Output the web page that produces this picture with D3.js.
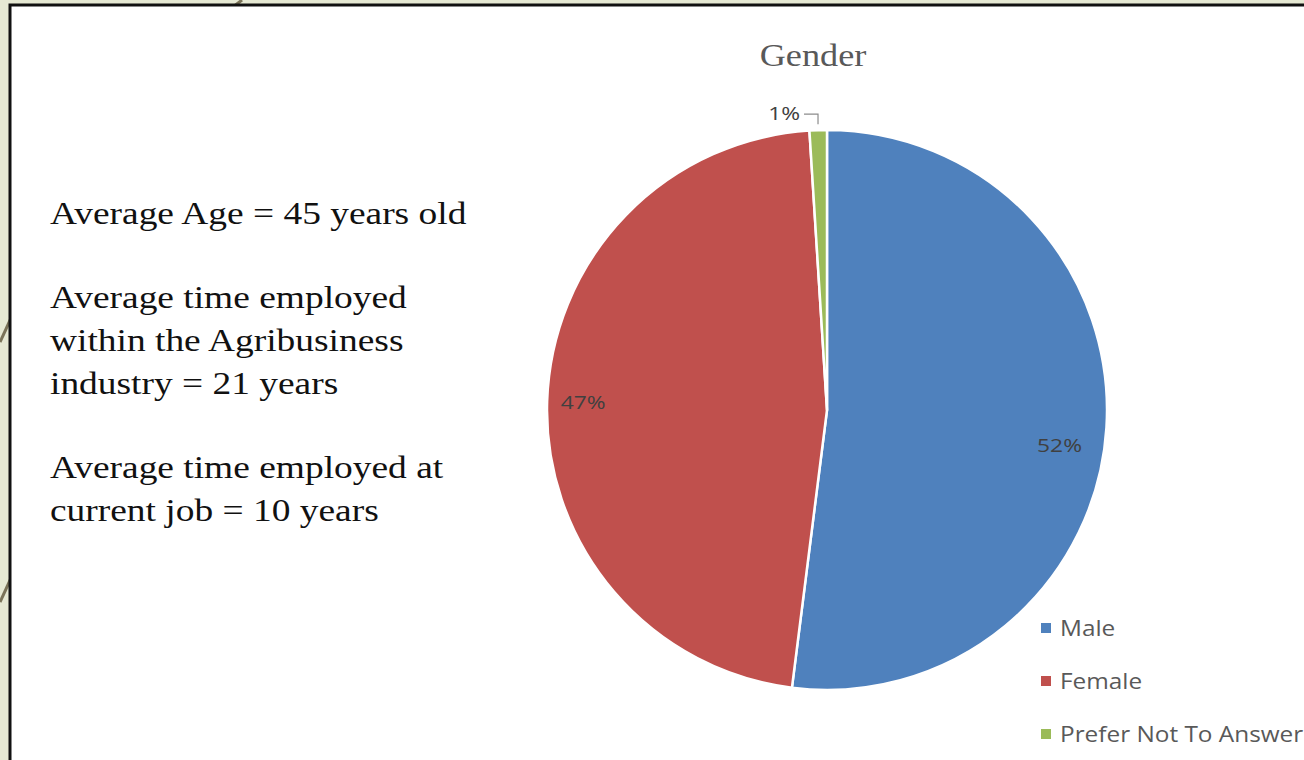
<!DOCTYPE html>
<html>
<head>
<meta charset="utf-8">
<script src="https://cdn.jsdelivr.net/npm/d3@7/dist/d3.min.js"></script>
<style>
  html, body { margin: 0; padding: 0; background: #e6e9d3; }
  svg { display: block; }
</style>
</head>
<body>
<svg id="chart" width="1304" height="760"></svg>
<script>
// Gender breakdown of respondents
const categories = ["Male", "Female", "Prefer Not To Answer"];
const shares = [52, 47, 1];
const colors = ["#4f81bd", "#c0504d", "#9bbb59"];

// Summary statistics shown beside the chart
const summaryBlocks = [
  ["Average Age = 45 years old"],
  ["Average time employed", "within the Agribusiness", "industry = 21 years"],
  ["Average time employed at", "current job = 10 years"]
];

const svg = d3.select("#chart");
const W = 1304, H = 760;
const serif = "'Liberation Serif', 'Times New Roman', serif";
const sans = "'Open Sans', 'DejaVu Sans', sans-serif";

// slide backdrop and decorative strokes
svg.append("rect").attr("width", W).attr("height", H).attr("fill", "#e6e9d3");
const deco = [[[0, 342], [12, 316]], [[0, 602], [12, 576]], [[233, 7], [242, 0]]];
deco.forEach(d => svg.append("line")
  .attr("x1", d[0][0]).attr("y1", d[0][1]).attr("x2", d[1][0]).attr("y2", d[1][1])
  .attr("stroke", "#7a7358").attr("stroke-width", 3));

// white panel with black frame
svg.append("rect").attr("x", 10).attr("y", 5).attr("width", W + 20).attr("height", H + 20)
  .attr("fill", "#ffffff").attr("stroke", "#111").attr("stroke-width", 3);

// text helper: the slide renders type slightly widened
function addText(parent, x, y, str, opts) {
  const t = parent.append("text")
    .attr("transform", `translate(${x},${y}) scale(${opts.sx || 1},1)`)
    .attr("font-family", opts.family).attr("font-size", opts.size)
    .attr("fill", opts.fill).attr("text-anchor", opts.anchor || "start")
    .text(str);
  return t;
}

// summary text
const textG = svg.append("g");
const blockTops = [224, 308, 478];
summaryBlocks.forEach((lines, i) => {
  lines.forEach((ln, j) => {
    addText(textG, 50, blockTops[i] + j * 43, ln,
      { family: serif, size: 32, fill: "#111", sx: 1.17 });
  });
});

// title
addText(svg, 813, 66, "Gender", { family: serif, size: 31, fill: "#595959", sx: 1.17, anchor: "middle" });

// pie
const cx = 827, cy = 410, r = 280;
const data = categories.map((c, i) => ({ name: c, value: shares[i], color: colors[i] }));
const pie = d3.pie().value(d => d.value).sort(null);
const arcs = pie(data);
const arc = d3.arc().innerRadius(0).outerRadius(r);
const pieG = svg.append("g").attr("transform", `translate(${cx},${cy})`);
pieG.selectAll("path").data(arcs).join("path")
  .attr("d", arc).attr("fill", d => d.data.color)
  .attr("stroke", "#ffffff").attr("stroke-width", 2.5).attr("stroke-linejoin", "round");

// data labels (best-fit placement nudges per slice)
const labelNudge = [[-5, 20], [-6, -1], [0, 0]];
const inner = d3.arc().innerRadius(r * 0.85).outerRadius(r * 0.85);
const labelOpts = { family: sans, size: 19, fill: "#404040", sx: 1.2, anchor: "middle" };
arcs.forEach((a, i) => {
  const label = a.data.value + "%";
  if (a.data.value >= 5) {
    const [lx, ly] = inner.centroid(a);
    addText(pieG, lx + labelNudge[i][0], ly + 7 + labelNudge[i][1], label, labelOpts);
  } else {
    // small slice: label outside with a leader line
    const mid = (a.startAngle + a.endAngle) / 2;
    const ex = Math.sin(mid) * (r + 6), ey = -Math.cos(mid) * (r + 6);
    const ky = ey - 10;
    pieG.append("path")
      .attr("d", `M${ex},${ey}L${ex},${ky}L${ex - 14},${ky}`)
      .attr("fill", "none").attr("stroke", "#8c8c8c").attr("stroke-width", 1.2);
    addText(pieG, ex - 18, ky + 6, label, Object.assign({}, labelOpts, { anchor: "end" }));
  }
});

// legend
const legend = svg.append("g").attr("transform", "translate(1041,628)");
data.forEach((d, i) => {
  const g = legend.append("g").attr("transform", `translate(0,${i * 53})`);
  g.append("rect").attr("x", 0).attr("y", -5).attr("width", 10).attr("height", 10).attr("fill", d.color);
  addText(g, 19, 8, d.name, { family: sans, size: 21, fill: "#595959", sx: 1.16 });
});
</script>
</body>
</html>
